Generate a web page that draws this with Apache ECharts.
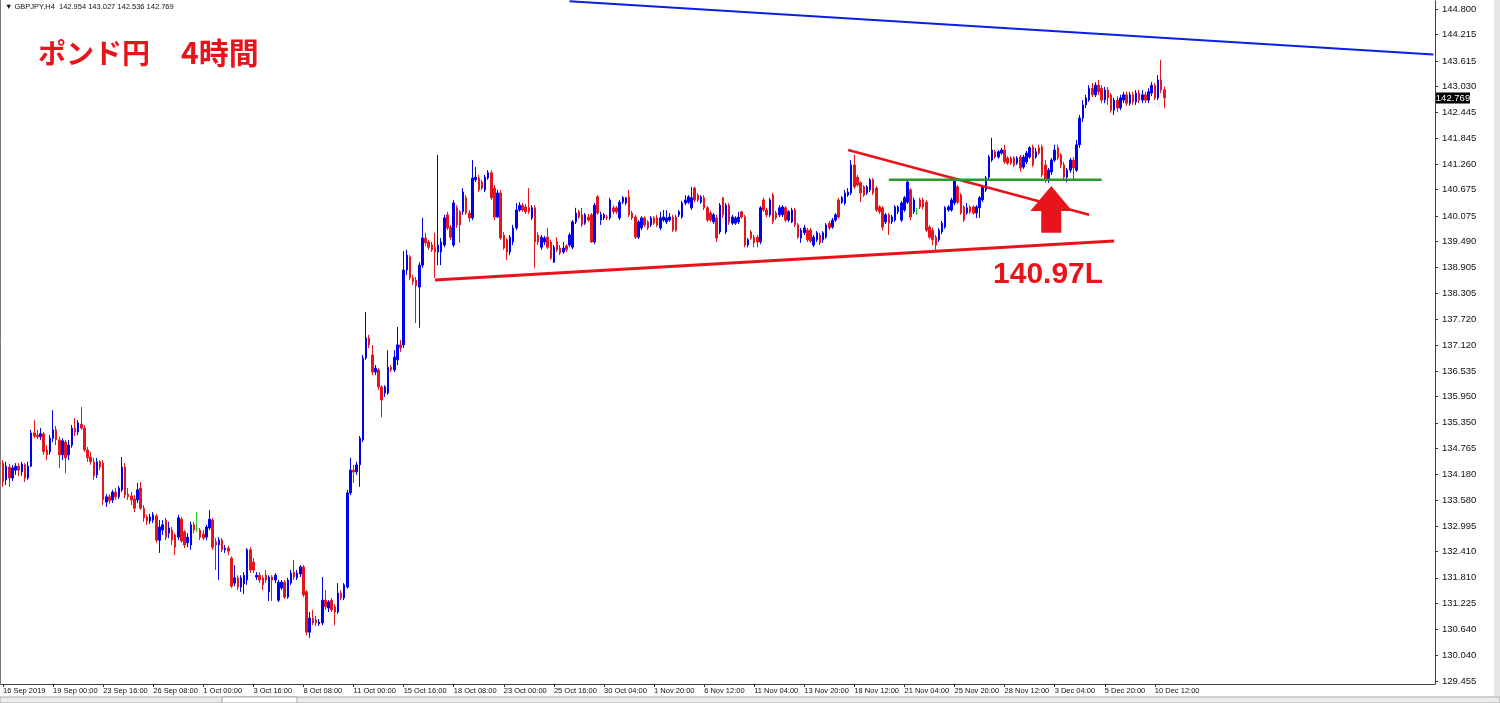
<!DOCTYPE html>
<html><head><meta charset="utf-8">
<script src="https://cdn.jsdelivr.net/npm/echarts@6/dist/echarts.min.js"></script>
<style>html,body{margin:0;padding:0;background:#fff}#c{width:1500px;height:703px}</style>
</head><body><div id="c"></div>
<script>
const tickLabels = ['16 Sep 2019','19 Sep 00:00','23 Sep 16:00','26 Sep 08:00','1 Oct 00:00','3 Oct 16:00','8 Oct 08:00','11 Oct 00:00','15 Oct 16:00','18 Oct 08:00','23 Oct 00:00','25 Oct 16:00','30 Oct 04:00','1 Nov 20:00','6 Nov 12:00','11 Nov 04:00','13 Nov 20:00','18 Nov 12:00','21 Nov 04:00','25 Nov 20:00','28 Nov 12:00','3 Dec 04:00','5 Dec 20:00','10 Dec 12:00'];
const priceTicks = [144.800,144.215,143.615,143.030,142.445,141.845,141.260,140.675,140.075,139.490,138.905,138.305,137.720,137.120,136.535,135.950,135.350,134.765,134.180,133.580,132.995,132.410,131.810,131.225,130.640,130.040,129.455];
// [open, close, low, high] per 4h bar
const ohlc = [
[134.43,134.00,133.89,134.50],[134.05,134.36,133.93,134.46],[134.34,134.09,133.89,134.41],[134.09,134.32,134.02,134.39],
[134.27,134.36,134.16,134.43],[134.36,134.27,134.14,134.43],[134.23,134.41,134.14,134.46],[134.39,134.09,134.00,134.43],
[134.09,134.36,134.05,134.46],[134.36,135.12,134.34,135.19],[135.12,135.05,135.00,135.41],[135.07,135.03,134.98,135.19],
[135.03,135.10,134.96,135.23],[135.10,134.69,134.62,135.14],[134.73,134.62,134.50,134.84],[134.69,135.00,134.62,135.07],
[135.00,135.19,134.91,135.64],[135.19,134.96,134.84,135.28],[134.96,134.62,134.32,135.03],[134.62,134.94,134.50,135.00],
[134.91,134.55,134.20,134.96],[134.62,134.84,134.50,134.96],[134.84,135.23,134.78,135.30],[135.23,135.14,135.05,135.46],
[135.14,135.35,135.07,135.41],[135.32,135.23,135.19,135.71],[135.23,134.73,134.69,135.30],[134.73,134.55,134.46,134.80],
[134.57,134.46,134.39,134.69],[134.46,134.14,134.05,134.55],[134.16,134.46,134.09,134.55],[134.46,134.34,134.27,134.50],
[134.43,133.59,133.47,134.50],[133.54,133.66,133.43,133.72],[133.66,133.57,133.50,133.72],[133.59,133.77,133.52,133.82],
[133.77,133.66,133.59,133.86],[133.66,133.86,133.61,133.91],[133.82,134.34,133.77,134.57],[134.34,133.70,133.63,134.43],
[133.72,133.66,133.59,133.86],[133.68,133.59,133.47,133.77],[133.61,133.40,133.31,133.70],[133.59,133.82,133.52,133.98],
[133.86,133.40,133.36,134.00],[133.40,133.18,133.09,133.47],[133.20,133.11,133.02,133.25],[133.11,133.20,133.04,133.27],
[133.13,133.25,133.06,133.31],[133.22,132.67,132.61,133.27],[132.67,132.97,132.38,133.13],[132.90,133.02,132.79,133.13],
[133.13,132.74,132.67,133.18],[132.83,132.95,132.72,133.09],[132.90,132.67,132.56,132.97],[132.79,132.51,132.33,132.83],
[132.74,133.18,132.67,133.25],[133.15,132.65,132.61,133.20],[132.86,132.56,132.49,132.90],[132.61,132.74,132.51,132.83],
[132.56,133.02,132.45,133.09],[133.02,132.90,132.83,133.09],[132.93,132.93,132.86,133.31],[132.90,132.74,132.67,132.95],
[132.81,132.72,132.67,132.90],[132.74,132.97,132.67,133.02],[132.95,133.15,132.90,133.36],[133.13,132.51,132.45,133.18],
[132.63,132.56,131.99,132.72],[132.56,132.67,131.76,132.74],[132.67,132.45,132.40,132.72],[132.45,132.49,132.38,132.56],
[132.49,132.42,132.33,132.54],[132.26,131.62,131.58,132.30],[131.69,131.81,131.62,132.10],[131.81,131.60,131.53,131.87],
[131.60,131.81,131.49,131.87],[131.67,131.87,131.44,131.94],[131.76,132.45,131.65,132.49],[132.45,131.99,131.92,132.51],
[132.17,131.99,131.92,132.26],[131.83,131.87,131.76,131.94],[131.87,131.76,131.69,131.94],[131.81,131.65,131.53,131.87],
[131.87,131.76,131.69,131.99],[131.49,131.83,131.28,131.87],[131.83,131.76,131.28,131.87],[131.76,131.87,131.69,131.92],
[131.30,131.71,131.26,131.76],[131.58,131.71,131.53,131.76],[131.71,131.37,131.33,131.76],[131.37,131.76,131.33,131.81],
[131.69,131.92,131.65,131.99],[131.94,131.83,131.76,132.22],[131.81,131.92,131.76,131.99],[131.90,132.06,131.83,132.10],
[132.06,131.42,131.37,132.10],[131.49,130.57,130.50,131.53],[130.57,130.89,130.44,131.03],[130.89,130.78,130.73,131.08],
[130.85,130.78,130.71,130.94],[130.76,130.80,130.71,130.87],[130.78,131.30,130.73,131.83],[131.30,131.15,131.08,131.53],
[131.12,131.26,131.03,131.30],[131.30,131.08,131.03,131.35],[131.15,131.03,130.73,131.21],[131.03,131.46,130.99,131.69],
[131.46,131.35,131.30,131.53],[131.35,131.65,131.30,131.69],[131.60,133.75,131.56,133.82],[133.75,134.27,133.70,134.55],
[134.27,134.23,133.98,134.39],[134.23,134.39,134.16,134.46],[134.39,135.00,133.89,135.05],[134.96,136.83,134.91,136.90],
[136.83,137.29,136.79,137.88],[137.29,137.13,137.06,137.36],[136.90,136.51,136.44,137.13],[136.51,136.60,136.44,136.67],
[136.56,136.17,136.10,136.60],[136.17,135.87,135.48,136.21],[136.03,136.17,135.94,136.21],[136.03,136.62,135.99,137.01],
[136.62,136.56,136.51,136.67],[136.56,136.85,136.51,137.01],[136.79,137.13,136.67,137.54],[137.13,137.06,136.97,137.24],
[137.13,138.84,137.06,139.27],[138.84,139.18,138.73,139.30],[139.14,138.66,138.61,139.18],[138.66,138.57,138.50,138.73],
[138.61,138.48,137.63,138.68],[138.45,138.95,137.52,139.02],[138.95,139.57,138.89,140.03],[139.57,139.46,139.39,139.69],
[139.48,139.36,139.30,139.53],[139.41,139.30,139.25,139.48],[139.36,139.25,138.66,139.69],[139.25,139.41,138.95,141.47],
[139.25,139.48,138.95,139.57],[139.41,140.03,139.36,140.10],[140.10,139.80,139.75,140.17],[139.82,139.59,139.53,139.87],
[139.41,140.37,139.36,140.44],[140.26,139.87,139.80,140.32],[140.17,139.87,139.46,140.21],[140.17,140.62,140.10,140.71],
[140.49,140.14,140.10,140.55],[140.14,140.03,139.94,140.21],[140.03,140.94,139.98,141.35],[140.90,140.96,140.85,141.19],
[140.94,140.67,140.62,141.01],[140.85,140.71,140.67,140.90],[140.67,140.96,140.62,141.01],[140.94,141.06,140.90,141.12],
[141.06,140.49,140.44,141.12],[140.71,140.05,139.98,140.78],[140.05,140.60,140.03,140.67],[140.60,139.57,139.53,140.67],
[139.64,139.34,139.30,139.71],[139.53,139.25,139.07,139.57],[139.25,139.59,139.18,139.64],[139.48,139.80,139.41,139.87],
[139.80,140.21,139.75,140.37],[140.21,140.32,140.17,140.39],[140.32,140.21,140.17,140.37],[140.28,140.17,140.12,140.35],
[140.26,140.17,140.12,140.71],[140.03,140.26,139.98,140.32],[140.26,139.48,138.89,140.32],[139.64,139.48,139.41,139.71],
[139.36,139.59,139.30,139.64],[139.48,139.57,139.41,139.62],[139.59,139.36,139.32,139.80],[139.48,139.11,139.07,139.53],
[139.02,139.36,139.00,139.41],[139.48,139.30,139.25,139.59],[139.34,139.23,139.18,139.41],[139.25,139.34,139.21,139.48],
[139.39,139.30,139.25,139.43],[139.41,139.64,139.36,139.69],[139.36,139.94,139.32,139.98],[139.94,140.14,139.89,140.26],
[140.17,140.05,140.01,140.21],[140.10,139.87,139.82,140.26],[139.91,140.10,139.87,140.14],[140.05,139.98,139.94,140.12],
[140.10,139.48,139.46,140.14],[139.48,140.32,139.43,140.37],[140.51,140.14,140.10,140.55],[139.98,140.10,139.87,140.17],
[140.03,140.10,139.98,140.14],[140.05,140.03,139.98,140.10],[140.03,140.44,139.98,140.49],[140.26,140.17,140.12,140.32],
[140.26,140.17,140.12,140.30],[140.03,140.39,139.98,140.44],[140.39,140.49,140.35,140.53],[140.37,140.49,140.32,140.51],
[140.51,140.10,140.05,140.67],[140.14,140.03,139.98,140.19],[140.05,139.59,139.55,140.10],[139.59,139.94,139.55,139.98],
[139.80,140.03,139.75,140.07],[140.03,139.87,139.82,140.07],[139.94,139.80,139.75,139.98],[139.87,140.03,139.82,140.07],
[140.03,139.91,139.87,140.07],[140.03,139.87,139.82,140.10],[139.80,140.03,139.75,140.17],[139.98,140.05,139.94,140.21],
[139.94,140.03,139.89,140.21],[139.98,140.05,139.94,140.14],[140.05,139.75,139.71,140.10],[140.05,139.75,139.71,140.10],
[140.10,140.17,140.05,140.21],[140.05,140.37,140.01,140.42],[140.37,140.44,140.32,140.55],[140.39,140.51,140.35,140.55],
[140.26,140.49,140.21,140.74],[140.71,140.44,140.39,140.74],[140.55,140.44,140.39,140.60],[140.39,140.51,140.35,140.55],
[140.49,140.26,140.21,140.55],[140.26,139.98,139.94,140.30],[140.14,139.98,139.94,140.19],[139.94,140.10,139.89,140.14],
[140.03,139.57,139.48,140.10],[139.71,140.32,139.66,140.37],[140.49,140.10,140.03,140.51],[139.71,140.32,139.66,140.37],
[140.32,139.94,139.87,140.37],[139.91,140.05,139.87,140.10],[139.91,140.03,139.87,140.07],[139.94,140.05,139.89,140.17],
[140.17,140.05,140.01,140.19],[140.05,139.41,139.36,140.10],[139.41,139.53,139.36,139.57],[139.71,139.57,139.53,139.75],
[139.59,139.46,139.36,139.64],[139.59,139.48,139.36,139.64],[139.48,140.26,139.43,140.30],[140.44,140.21,140.17,140.49],
[140.21,140.10,140.05,140.26],[140.10,140.44,140.05,140.49],[140.55,139.94,139.89,140.60],[140.14,140.03,139.98,140.19],
[140.10,140.26,140.05,140.32],[140.10,140.28,140.05,140.32],[140.26,139.98,139.94,140.30],[139.98,140.17,139.94,140.21],
[139.94,140.21,139.91,140.26],[140.21,139.87,139.82,140.26],[139.87,139.59,139.55,139.91],[139.57,139.75,139.46,139.80],
[139.69,139.80,139.64,139.87],[139.75,139.53,139.48,139.80],[139.75,139.50,139.46,139.80],[139.41,139.59,139.36,139.64],
[139.53,139.69,139.48,139.73],[139.64,139.46,139.41,139.69],[139.53,139.69,139.46,139.73],[139.59,139.87,139.55,139.91],
[139.91,139.80,139.75,139.96],[139.82,139.98,139.78,140.03],[139.98,140.10,139.94,140.14],[140.44,140.05,140.01,140.49],
[140.39,140.49,140.35,140.53],[140.37,140.60,140.32,140.67],[140.55,140.62,140.51,140.71],[140.60,141.24,140.55,141.35],
[141.24,140.74,140.69,141.47],[140.96,140.78,140.74,141.01],[140.83,140.60,140.39,140.87],[140.74,140.55,140.51,140.78],
[140.60,140.74,140.55,140.78],[140.67,140.90,140.62,140.94],[140.90,140.60,140.55,140.94],[140.71,140.21,140.17,140.76],
[140.28,140.17,140.12,140.32],[140.26,139.82,139.75,140.30],[139.94,140.10,139.89,140.14],[140.10,139.91,139.64,140.14],
[139.94,140.05,139.89,140.10],[139.98,140.28,139.94,140.32],[140.17,140.28,140.12,140.32],[139.98,140.37,139.94,140.42],
[140.21,140.49,140.17,140.53],[140.39,140.85,140.35,140.90],[140.67,140.05,139.98,140.71],[140.17,140.44,140.12,140.49],
[140.14,140.14,140.10,140.26],[140.44,140.28,140.23,140.49],[140.44,140.28,140.23,140.49],[140.39,139.75,139.71,140.44],
[139.82,139.59,139.55,139.87],[139.75,139.53,139.41,139.80],[139.59,139.41,139.30,139.64],[139.53,139.75,139.48,139.80],
[139.71,139.91,139.66,139.96],[139.82,140.26,139.78,140.30],[140.21,140.28,140.17,140.32],[140.21,140.44,140.17,140.49],
[140.37,140.90,140.32,140.94],[140.74,140.39,140.35,140.78],[140.55,140.14,140.10,140.60],[140.28,139.98,139.94,140.32],
[140.14,140.26,140.10,140.37],[140.28,140.17,140.12,140.32],[140.28,140.14,140.10,140.32],[140.14,140.28,140.03,140.32],
[140.26,140.49,140.03,140.53],[140.44,140.74,140.39,140.78],[140.67,140.94,140.62,140.99],[140.96,141.42,140.92,141.47],
[141.35,141.58,141.31,141.86],[141.54,141.42,141.38,141.58],[141.42,141.54,141.38,141.58],[141.51,141.58,141.47,141.63],
[141.58,141.31,141.26,141.70],[141.40,141.28,141.24,141.44],[141.40,141.28,141.24,141.44],[141.40,141.24,141.19,141.44],
[141.28,141.40,141.24,141.44],[141.42,141.17,141.08,141.47],[141.19,141.42,141.15,141.47],[141.31,141.51,141.26,141.56],
[141.42,141.63,141.38,141.67],[141.65,141.24,141.19,141.70],[141.42,141.54,141.38,141.63],[141.63,141.51,141.47,141.70],
[141.65,141.01,140.96,141.70],[141.24,140.90,140.83,141.35],[140.90,141.12,140.83,141.17],[141.08,141.35,141.01,141.40],
[141.35,141.58,141.31,141.70],[141.63,141.40,141.35,141.70],[141.47,141.24,141.17,141.51],[141.24,140.96,140.90,141.31],
[140.96,141.12,140.85,141.17],[141.12,141.35,141.06,141.40],[141.35,141.17,140.90,141.42],[141.12,141.70,141.08,141.81],
[141.70,142.31,141.63,142.38],[142.31,142.61,142.22,142.72],[142.61,142.77,142.54,142.84],[142.72,142.99,142.68,143.06],
[142.99,142.84,142.79,143.11],[142.84,143.06,142.79,143.13],[143.06,142.91,142.84,143.18],[142.99,142.72,142.65,143.06],
[142.72,142.95,142.65,143.02],[142.95,142.77,142.61,143.02],[142.84,142.49,142.43,142.88],[142.49,142.72,142.38,142.77],
[142.72,142.54,142.45,142.81],[142.54,142.77,142.49,142.84],[142.72,142.84,142.65,142.91],[142.84,142.65,142.59,142.91],
[142.65,142.84,142.59,142.91],[142.84,142.68,142.61,142.91],[142.68,142.88,142.61,142.95],[142.88,142.72,142.65,142.95],
[142.72,142.84,142.65,142.95],[142.84,142.72,142.65,142.91],[142.72,142.91,142.65,142.99],[142.88,143.06,142.81,143.13],
[143.06,142.77,142.72,143.11],[142.77,143.18,142.72,143.29],[143.18,142.95,142.88,143.64],[142.954,142.769,142.536,143.027]
];
const lastPrice = 142.769;
const headerText = '\u25BC GBPJPY,H4  142.954 143.027 142.536 142.769';
// annotation lines: [barIndex, price] endpoints
const blueLine = [[181, 144.98], [457, 143.76]];
const supportLine = [[138, 138.61], [355, 139.50]];
const fallLine = [[270, 141.58], [347, 140.10]];
const neckLine = [[283, 140.90], [351, 140.90]];
const arrowPts = [[331.7,139.69],[331.7,140.19],[328.2,140.19],[334.9,140.76],[341.6,140.19],[338.1,140.19],[338.1,139.69]];
const levelLabel = {text: '140.97L', at: [316.3, 138.73]};

const N = 458;
const cats = Array.from({length: N}, (_, i) => String(i));
const RED = '#e8141c', BLUE = '#0000f0', GREEN = '#2a9a2a';
const showTick = (i) => i % 16 === 0 && i / 16 < tickLabels.length;

const chart = echarts.init(document.getElementById('c'));
const lineSeries = (pts, color, width) => ({type: 'line', xAxisIndex: 1, yAxisIndex: 0, data: pts, symbol: 'none', silent: true, z: 4, lineStyle: {color, width}});
chart.setOption({
  animation: false,
  backgroundColor: '#fff',
  grid: {left: 1, right: 65, top: 1, bottom: 19},
  xAxis: [{
    type: 'category', data: cats, boundaryGap: true,
    axisLine: {show: true, onZero: false, lineStyle: {color: '#444', width: 1}},
    axisTick: {show: true, interval: showTick, alignWithLabel: true, length: 3, lineStyle: {color: '#333'}},
    axisLabel: {interval: showTick, align: 'left', margin: 3, fontSize: 7.5, color: '#111', fontFamily: 'Liberation Sans',
      formatter: (v) => tickLabels[Number(v) / 16] || ''},
    splitLine: {show: false}
  }, {type: 'value', min: -0.5, max: N - 0.5, show: false}],
  yAxis: {
    type: 'value', position: 'right', min: 129.386, max: 144.983,
    axisLine: {show: true, onZero: false, lineStyle: {color: '#444', width: 1}},
    axisTick: {show: true, customValues: priceTicks, length: 3, lineStyle: {color: '#333'}},
    axisLabel: {customValues: priceTicks, formatter: (v) => v.toFixed(3), fontSize: 9.5, margin: 7, color: '#111', fontFamily: 'Liberation Sans'},
    splitLine: {show: false}
  },
  series: [
    {type: 'candlestick', data: ohlc, barWidth: 2, z: 3,
      itemStyle: {color: BLUE, color0: RED, borderColor: BLUE, borderColor0: RED, borderColorDoji: '#22c022', borderWidth: 1}},
    lineSeries(blueLine, '#0a1ee6', 2),
    lineSeries(supportLine, RED, 3),
    lineSeries(fallLine, RED, 2.5),
    lineSeries(neckLine, GREEN, 2.5)
  ]
});
const px = (p) => chart.convertToPixel({seriesIndex: 1}, p);
const lp = px(levelLabel.at);
const lastY = px([0, lastPrice])[1];
chart.setOption({graphic: [
  {type: 'polygon', z: 10, shape: {points: arrowPts.map(px)}, style: {fill: RED}},
  {type: 'text', z: 10, x: lp[0], y: lp[1], style: {text: levelLabel.text, fill: RED, fontSize: 30, fontWeight: 'bold', fontFamily: 'Liberation Sans', align: 'left', verticalAlign: 'middle'}},
  {type: 'text', z: 10, x: 38, y: 53, style: {text: 'ポンド円', fill: RED, fontSize: 28, fontWeight: 'bold', fontFamily: 'Noto Sans CJK JP', align: 'left', verticalAlign: 'middle'}},
  {type: 'text', z: 10, x: 181, y: 53, style: {text: '4時間', fill: RED, fontSize: 30, fontWeight: 'bold', fontFamily: 'Noto Sans CJK JP', align: 'left', verticalAlign: 'middle'}},
  {type: 'text', z: 10, x: 5, y: 7, style: {text: headerText, fill: '#111', fontSize: 7.5, fontFamily: 'Liberation Sans', align: 'left', verticalAlign: 'middle'}},
  {type: 'rect', z: 10, shape: {x: 1436, y: lastY - 5.5, width: 34, height: 11}, style: {fill: '#000'}},
  {type: 'text', z: 11, x: 1453, y: lastY, style: {text: lastPrice.toFixed(3), fill: '#fff', fontSize: 9.5, fontFamily: 'Liberation Sans', align: 'center', verticalAlign: 'middle'}},
  {type: 'line', z: 10, shape: {x1: 0.5, y1: 0, x2: 0.5, y2: 685}, style: {stroke: '#777', lineWidth: 1}},
  {type: 'rect', z: 10, shape: {x: 1494, y: 0, width: 6, height: 703}, style: {fill: '#e6e6e6'}},
  {type: 'rect', z: 10, shape: {x: 0, y: 697, width: 1500, height: 6}, style: {fill: '#ececec', stroke: '#a8a8a8', lineWidth: 1}},
  {type: 'rect', z: 11, shape: {x: 222, y: 697, width: 75, height: 6}, style: {fill: '#fff', stroke: '#a8a8a8', lineWidth: 1}}
]});
</script>
</body></html>
